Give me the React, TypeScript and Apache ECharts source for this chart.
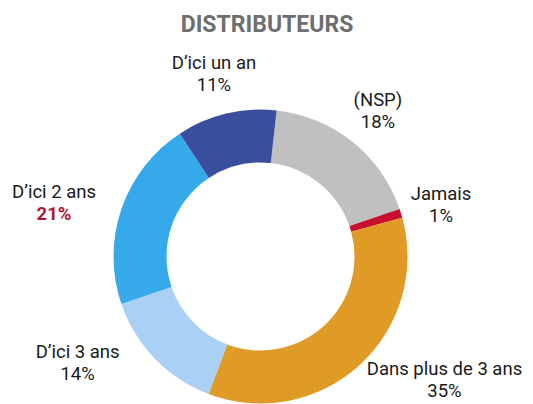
import React, { useEffect, useRef } from "react";
import * as echarts from "echarts";

const title = "DISTRIBUTEURS";
const categories = ["(NSP)", "Jamais", "Dans plus de 3 ans", "D’ici 3 ans", "D’ici 2 ans", "D’ici un an"];
const values = [18, 1, 35, 14, 21, 11];
const highlighted = "D’ici 2 ans";

const colors = ["#c0c0c0", "#c8102e", "#df9b26", "#aad1f5", "#35a9e9", "#3a4e9e"];
// label placement (radial length, horizontal length) per slice
const labelRadial = [40, 26.5, 20, 6, 19, 40.7];
const labelHorizontal = [0.5, 14.7, 71.6, 73, 49.4, 2.7];

export default function App() {
  const ref = useRef<HTMLDivElement>(null);
  useEffect(() => {
    if (!ref.current) return;
    const chart = echarts.init(ref.current, null, { renderer: "svg" });
    const data = categories.map((name, i) => ({
      name,
      value: values[i],
      itemStyle: { color: colors[i] },
      labelLine: { show: false, length: labelRadial[i], length2: labelHorizontal[i] },
    }));
    chart.setOption({
      animation: false,
      title: {
        text: title,
        left: 262,
        top: 8,
        textAlign: "center",
        textStyle: { fontFamily: "Roboto", fontWeight: "bold", fontSize: 23, color: "#6d6e71" },
      },
      series: [
        {
          type: "pie",
          center: [260.5, 256.5],
          radius: [94, 147],
          startAngle: 83.7,
          clockwise: true,
          avoidLabelOverlap: false,
          data,
          label: {
            show: true,
            position: "outside",
            alignTo: "none",
            distanceToLabelLine: 0,
            formatter: (p: any) =>
              `{n|${p.name}}\n{${p.name === highlighted ? "h" : "v"}|${p.value}%}`,
            rich: {
              n: { fontFamily: "Roboto", fontSize: 18.5, color: "#1a1a1a", lineHeight: 22, align: "center" },
              v: { fontFamily: "Roboto", fontSize: 18.5, color: "#1a1a1a", lineHeight: 22, align: "center" },
              h: { fontFamily: "Roboto", fontSize: 18.5, fontWeight: "bold", color: "#b0163a", lineHeight: 22, align: "center" },
            },
          },
          labelLine: { show: false },
          labelLayout: () => ({ align: "center" }),
          emphasis: { disabled: true },
        },
      ],
    });
    return () => chart.dispose();
  }, []);
  return (
    <div
      ref={ref}
      style={{ position: "absolute", left: 0, top: 0, width: 533, height: 404, background: "#fff" }}
    />
  );
}
